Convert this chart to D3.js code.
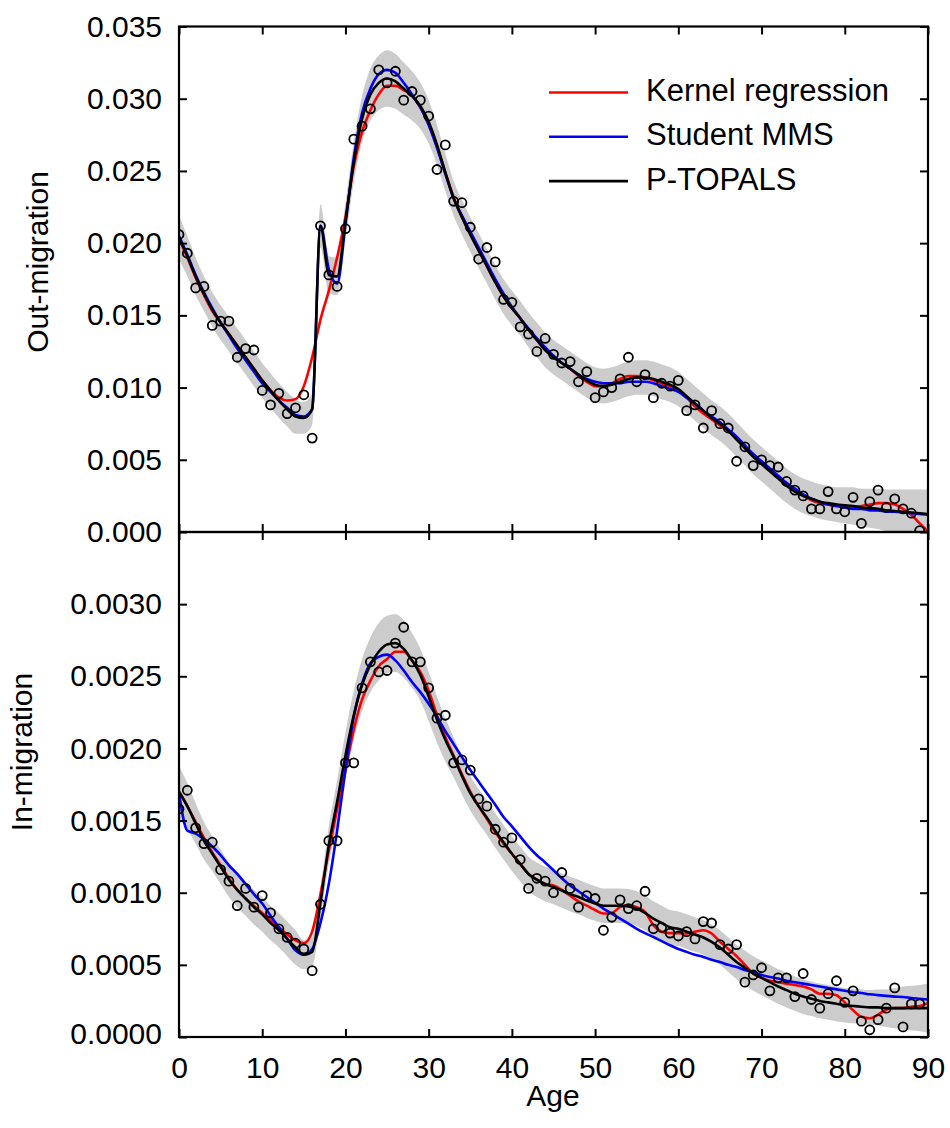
<!DOCTYPE html>
<html>
<head>
<meta charset="utf-8">
<script src="https://cdn.jsdelivr.net/npm/d3@7"></script>
<style>
	body { margin: 0; background: #fff; }
	svg text { font-family: "Liberation Sans", Arial, Helvetica, sans-serif; fill: #000; }
</style>
</head>
<body>
<svg id="chart" width="950" height="1128"></svg>
<script>
!(function(){
	"use strict";

	// ages on the x axis
	let ages = d3.range(0, 91),
		obsAges = d3.range(0, 90),
		xTicks = [0, 10, 20, 30, 40, 50, 60, 70, 80, 90];

	// out-migration, values in units of 0.001
	let outObs = [20.6,19.3,16.9,17.0,14.3,14.6,14.6,12.1,12.7,12.6,9.8,8.8,9.6,8.2,8.6,9.5,6.5,21.2,17.8,17.0,
		21.0,27.2,28.1,29.3,32.0,31.1,31.9,29.9,30.5,29.9,28.8,25.1,26.8,22.9,22.8,21.1,18.9,19.7,18.7,16.1,
		15.9,14.2,13.7,12.5,13.4,12.3,11.7,11.8,10.4,11.1,9.3,9.7,10.0,10.6,12.1,10.4,10.9,9.3,10.3,10.1,
		10.5,8.4,8.8,7.2,8.4,7.5,7.2,4.9,5.9,4.6,5.0,4.6,4.5,3.5,2.9,2.5,1.6,1.6,2.8,1.6,
		1.4,2.4,0.6,2.1,2.9,1.7,2.3,1.6,1.3,0.1];
	let outTopals = [20.4,19.1,17.7,16.5,15.4,14.5,13.7,12.9,12.1,11.3,10.5,9.8,9.1,8.5,8.0,7.9,8.5,21.2,17.8,17.7,
		21.5,25.6,28.6,30.3,31.1,31.4,31.2,30.7,30.2,29.5,28.4,26.8,24.9,23.1,21.8,20.6,19.5,18.4,17.3,16.3,
		15.5,14.8,14.0,13.3,12.6,12.1,11.7,11.3,10.9,10.5,10.2,10.1,10.2,10.4,10.6,10.7,10.7,10.6,10.4,10.2,
		9.9,9.4,8.9,8.4,7.9,7.5,7.0,6.4,5.8,5.2,4.7,4.2,3.7,3.2,2.8,2.5,2.3,2.1,2.0,1.9,
		1.85,1.8,1.7,1.65,1.6,1.5,1.45,1.4,1.35,1.3,1.25];
	let outKernel = [20.3,19.0,17.6,16.4,15.3,14.5,13.7,12.9,12.1,11.3,10.5,9.8,9.3,9.1,9.2,10.1,12.1,14.7,16.7,19.0,
		21.8,25.3,27.7,29.2,30.3,30.9,30.9,30.6,30.2,29.4,28.2,26.7,24.9,23.2,21.8,20.6,19.5,18.4,17.3,16.3,
		15.5,14.8,14.0,13.3,12.6,12.1,11.7,11.3,10.8,10.4,10.1,10.1,10.3,10.6,10.8,10.8,10.7,10.5,10.3,10.1,
		9.8,9.3,8.7,8.2,7.8,7.4,7.0,6.5,5.9,5.3,4.8,4.3,3.8,3.3,2.9,2.5,2.2,2.0,1.9,1.8,
		1.8,1.75,1.8,1.9,2.0,2.0,1.9,1.6,1.2,0.6,0.05];
	let outMms = [20.5,19.2,17.8,16.6,15.5,14.5,13.6,12.7,11.9,11.1,10.3,9.7,9.1,8.6,8.1,8.0,8.5,21.2,18.2,17.2,
		21.3,25.9,29.0,30.7,31.7,32.0,31.8,31.1,30.3,29.4,28.2,26.6,24.8,23.1,21.9,20.8,19.7,18.6,17.5,16.5,
		15.6,14.8,14.1,13.4,12.8,12.2,11.7,11.3,10.9,10.6,10.4,10.3,10.3,10.3,10.4,10.4,10.4,10.3,10.1,9.9,
		9.7,9.3,8.9,8.4,8.0,7.6,7.1,6.6,6.0,5.4,4.9,4.4,3.9,3.4,3.0,2.6,2.3,2.1,1.9,1.8,
		1.7,1.6,1.6,1.5,1.5,1.4,1.4,1.35,1.3,1.25,1.2];
	// half width of the grey band round P-TOPALS
	let outBand = [1.5,1.4,1.3,1.2,1.2,1.2,1.2,1.2,1.2,1.2,1.2,1.2,1.2,1.2,1.2,1.1,1.1,1.5,1.3,1.3,
		1.3,1.4,1.6,1.8,1.9,1.95,1.9,1.8,1.7,1.6,1.5,1.4,1.3,1.2,1.2,1.2,1.2,1.2,1.2,1.2,
		1.2,1.2,1.2,1.2,1.2,1.2,1.2,1.2,1.2,1.2,1.2,1.2,1.2,1.2,1.2,1.2,1.2,1.2,1.2,1.2,
		1.2,1.2,1.2,1.2,1.2,1.2,1.2,1.2,1.2,1.2,1.2,1.2,1.2,1.2,1.2,1.2,1.2,1.2,1.2,1.2,
		1.25,1.3,1.3,1.35,1.4,1.45,1.5,1.55,1.6,1.65,1.7];

	// in-migration, values in units of 0.0001
	let inObs = [15.8,17.1,14.5,13.4,13.5,11.6,10.8,9.1,10.3,9.0,9.8,8.6,7.5,6.9,6.5,6.1,4.6,9.2,13.6,13.6,
		19.0,19.0,24.2,26.0,25.3,25.4,27.3,28.4,26.0,26.0,24.2,22.1,22.3,19.0,19.2,18.5,16.5,16.0,14.4,13.5,
		13.8,12.3,10.3,11.0,10.8,10.0,11.4,10.3,9.0,9.8,9.6,7.4,8.3,9.5,8.9,9.1,10.1,7.5,7.6,7.2,
		7.0,7.3,6.8,8.0,7.9,6.4,6.1,6.4,3.8,4.3,4.8,3.2,4.1,4.1,2.8,4.4,2.6,2.0,3.0,3.9,
		2.4,3.2,1.1,0.5,1.2,2.0,3.4,0.7,2.3,2.3];
	let inTopals = [17.0,16.0,14.8,13.6,12.7,11.8,10.9,10.2,9.6,9.0,8.5,7.9,7.4,6.8,6.2,5.7,5.9,9.3,13.3,16.3,
		19.5,22.3,24.4,25.8,26.7,27.2,27.3,26.9,26.1,25.1,23.6,22.0,20.6,19.4,18.1,16.9,16.0,15.2,14.3,13.5,
		12.7,12.0,11.3,10.9,10.6,10.4,10.15,9.9,9.7,9.45,9.25,9.1,9.1,9.1,9.05,8.9,8.6,8.2,7.9,7.6,
		7.5,7.3,7.1,6.9,6.6,6.2,5.7,5.2,4.8,4.4,4.1,3.8,3.5,3.25,3.0,2.8,2.65,2.5,2.4,2.3,
		2.2,2.15,2.1,2.05,2.05,2.0,2.0,2.0,2.0,2.0,2.0];
	let inKernel = [17.0,16.0,14.9,13.8,12.8,11.9,11.0,10.2,9.6,9.1,8.6,8.1,7.6,7.1,6.7,6.5,7.3,9.9,12.9,15.8,
		18.5,21.3,23.4,24.7,25.7,26.2,26.7,26.7,26.1,25.3,24.0,22.3,20.8,19.5,18.2,17.0,16.0,15.1,14.2,13.4,
		12.7,12.0,11.3,10.9,10.6,10.5,10.2,9.8,9.4,9.1,8.8,8.56,8.6,9.0,9.13,9.0,8.67,7.75,7.3,7.2,
		7.2,7.17,7.3,7.4,7.17,6.6,6.1,5.6,5.0,4.4,4.1,3.9,3.8,3.7,3.6,3.5,3.3,3.0,3.0,2.9,
		2.4,1.85,1.4,1.3,1.55,1.9,2.0,2.0,2.1,2.15,2.35];
	let inMms = [16.9,14.3,14.1,13.7,13.2,12.6,11.9,11.3,10.6,9.9,9.25,8.4,7.6,6.8,6.0,5.7,6.1,7.9,10.6,14.3,
		18.5,22.2,24.5,25.9,26.35,26.5,26.1,25.4,24.6,23.9,23.1,22.2,21.2,20.3,19.4,18.5,17.7,16.9,16.1,15.25,
		14.6,13.9,13.2,12.6,12.1,11.56,11.0,10.5,10.1,9.7,9.3,8.9,8.55,8.2,7.85,7.5,7.2,6.93,6.65,6.36,
		6.1,5.9,5.7,5.55,5.35,5.2,5.0,4.85,4.65,4.5,4.3,4.16,4.05,3.9,3.8,3.7,3.6,3.5,3.4,3.3,
		3.2,3.1,3.05,2.96,2.9,2.85,2.8,2.77,2.7,2.65,2.6];
	let inBand = [1.8,1.6,1.4,1.3,1.2,1.2,1.2,1.2,1.2,1.2,1.2,1.2,1.2,1.2,1.2,1.0,1.0,1.1,1.3,1.5,
		1.6,1.7,1.8,1.9,2.0,2.0,2.0,2.0,1.9,1.8,1.7,1.6,1.5,1.4,1.3,1.2,1.2,1.2,1.2,1.2,
		1.2,1.2,1.2,1.2,1.2,1.2,1.2,1.2,1.2,1.2,1.2,1.2,1.2,1.2,1.2,1.2,1.2,1.2,1.2,1.2,
		1.2,1.2,1.2,1.2,1.2,1.2,1.2,1.2,1.2,1.2,1.2,1.2,1.2,1.2,1.2,1.2,1.2,1.2,1.2,1.2,
		1.2,1.2,1.2,1.2,1.25,1.3,1.4,1.5,1.55,1.6,1.7];

	let outTicks = [0, 0.005, 0.010, 0.015, 0.020, 0.025, 0.030, 0.035],
		inTicks = [0, 0.0005, 0.0010, 0.0015, 0.0020, 0.0025, 0.0030],
		seriesNames = ['Kernel regression', 'Student MMS', 'P-TOPALS'],
		seriesColors = ['#ff0000', '#0000ff', '#000000'];

	let svg = d3.select('#chart'),
		left = 179, right = 928,
		x = d3.scaleLinear().domain([0, 90]).range([left, right]);

	let panels = [
		{ id: 'out', top: 26.5, bottom: 532, max: 0.035, unit: 1e-3, ticks: outTicks, fmt: d3.format('.3f'),
			obs: outObs, topals: outTopals, kernel: outKernel, mms: outMms, band: outBand,
			title: 'Out-migration', titleX: 48, titleY: 262 },
		{ id: 'in', top: 532, bottom: 1037, max: 0.0035, unit: 1e-4, ticks: inTicks, fmt: d3.format('.4f'),
			obs: inObs, topals: inTopals, kernel: inKernel, mms: inMms, band: inBand,
			title: 'In-migration', titleX: 32, titleY: 752 }
	];

	panels.forEach((p, pi) => {
		let y = d3.scaleLinear().domain([0, p.max]).range([p.bottom, p.top]),
			u = p.unit;

		svg.append('clipPath').attr('id', 'clip-' + p.id)
			.append('rect')
			.attr('x', left).attr('y', p.top)
			.attr('width', right - left).attr('height', p.bottom - p.top);

		let g = svg.append('g').attr('clip-path', 'url(#clip-' + p.id + ')');

		let area = d3.area()
			.curve(d3.curveMonotoneX)
			.x((d, i) => x(ages[i]))
			.y0((d, i) => y((d - p.band[i]) * u))
			.y1((d, i) => y((d + p.band[i]) * u));

		g.append('path')
			.datum(p.topals)
			.attr('d', area)
			.attr('fill', '#cccccc');

		let line = d3.line()
			.curve(d3.curveMonotoneX)
			.x((d, i) => x(ages[i]))
			.y(d => y(d * u));

		[p.kernel, p.mms, p.topals].forEach((s, si) => {
			g.append('path')
				.datum(s)
				.attr('d', line)
				.attr('fill', 'none')
				.attr('stroke', seriesColors[si])
				.attr('stroke-width', 2.6)
				.attr('stroke-linejoin', 'round');
		});

		g.selectAll('circle.pt')
			.data(p.obs)
			.enter()
			.append('circle')
			.attr('class', 'pt')
			.attr('cx', (d, i) => x(obsAges[i]))
			.attr('cy', d => y(d * u))
			.attr('r', 4.5)
			.attr('fill', 'none')
			.attr('stroke', '#000')
			.attr('stroke-width', 1.8);

		// inward ticks on all four sides
		let tickLen = 8;
		let yl = svg.append('g')
			.attr('transform', 'translate(' + left + ',0)')
			.call(d3.axisLeft(y).tickValues(p.ticks).tickSize(-tickLen).tickPadding(17).tickFormat(p.fmt));
		yl.selectAll('text').attr('font-size', 30)
			.filter(d => pi === 1 && d === 0).attr('dy', '0.2em');
		svg.append('g')
			.attr('transform', 'translate(' + right + ',0)')
			.call(d3.axisRight(y).tickValues(p.ticks).tickSize(-tickLen).tickFormat(''));
		svg.append('g')
			.attr('transform', 'translate(0,' + p.top + ')')
			.call(d3.axisTop(x).tickValues(xTicks).tickSize(-tickLen).tickFormat(''));
		let xb = svg.append('g')
			.attr('transform', 'translate(0,' + p.bottom + ')')
			.call(d3.axisBottom(x).tickValues(xTicks).tickSize(-tickLen).tickPadding(20)
				.tickFormat(pi === 1 ? d3.format('d') : ''));
		xb.selectAll('text').attr('font-size', 30);

		svg.selectAll('.domain').remove();
		svg.selectAll('.tick line').attr('stroke', '#000').attr('stroke-width', 2);

		svg.append('rect')
			.attr('x', left).attr('y', p.top)
			.attr('width', right - left).attr('height', p.bottom - p.top)
			.attr('fill', 'none')
			.attr('stroke', '#000')
			.attr('stroke-width', 2.2);

		svg.append('text')
			.attr('transform', 'translate(' + p.titleX + ',' + p.titleY + ') rotate(-90)')
			.attr('text-anchor', 'middle')
			.attr('font-size', 30)
			.text(p.title);
	});

	svg.append('text')
		.attr('x', 553).attr('y', 1106)
		.attr('text-anchor', 'middle')
		.attr('font-size', 30)
		.text('Age');

	// legend
	let legend = svg.append('g').attr('class', 'legend');
	seriesNames.forEach((name, i) => {
		let ly = 92.5 + i * 44.3;
		legend.append('line')
			.attr('x1', 549).attr('x2', 628)
			.attr('y1', ly).attr('y2', ly)
			.attr('stroke', seriesColors[i])
			.attr('stroke-width', 2.6);
		legend.append('text')
			.attr('x', 646).attr('y', ly + 8.5)
			.attr('font-size', 31)
			.text(name);
	});
}());
</script>
</body>
</html>
